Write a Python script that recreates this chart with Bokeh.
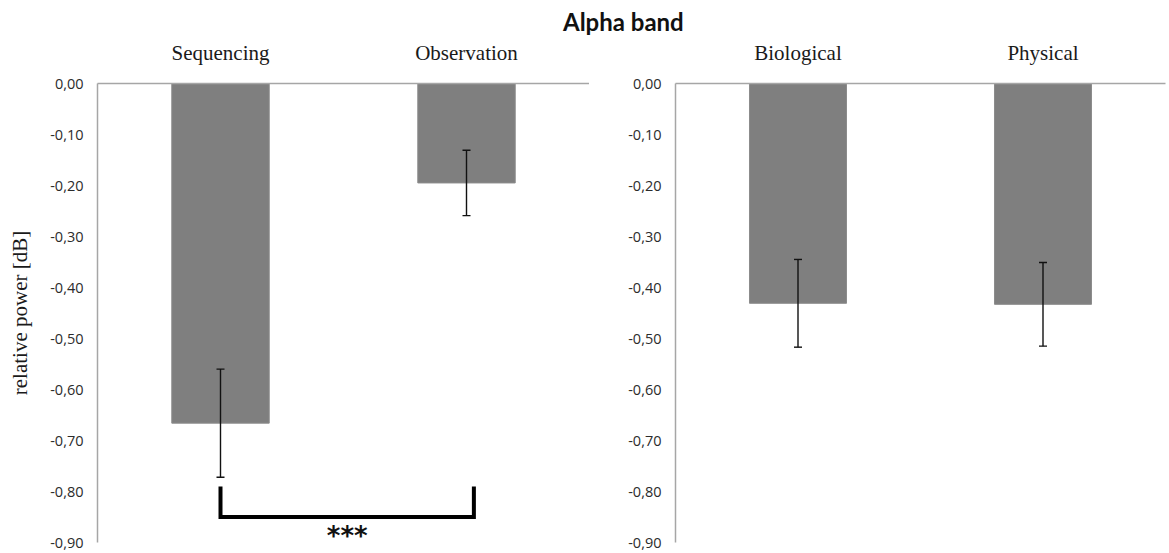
from bokeh.plotting import figure
from bokeh.models import (ColumnDataSource, Range1d, FixedTicker, Whisker, TeeHead, Div, Label)
from bokeh.layouts import column, row
from bokeh.embed import file_html
from bokeh.resources import INLINE

# ---------------- data ----------------
title_text = "Alpha band"
y_label = "relative power [dB]"

left_categories = ["Sequencing", "Observation"]
left_values = [-0.666, -0.195]
left_errors = [0.106, 0.064]

right_categories = ["Biological", "Physical"]
right_values = [-0.431, -0.433]
right_errors = [0.086, 0.082]

y_ticks = [0.0, -0.1, -0.2, -0.3, -0.4, -0.5, -0.6, -0.7, -0.8, -0.9]
y_tick_labels = ["0,00", "-0,10", "-0,20", "-0,30", "-0,40", "-0,50",
                 "-0,60", "-0,70", "-0,80", "-0,90"]

significance = "***"

# ---------------- styling ----------------
BAR_COLOR = "#7f7f7f"
AXIS_COLOR = "#a6a6a6"
SERIF = "Liberation Serif"
SANS = "Open Sans"
FRAME_H = 459


def make_panel(categories, values, errors, frame_width, border_left, border_right, with_label):
    xs = [i + 0.5 for i in range(len(categories))]
    src = ColumnDataSource(dict(
        x=xs,
        top=[0.0] * len(values),
        bottom=values,
        upper=[v + e for v, e in zip(values, errors)],
        lower=[v - e for v, e in zip(values, errors)],
    ))
    p = figure(frame_width=frame_width, frame_height=FRAME_H,
               x_range=Range1d(0, len(categories)),
               y_range=Range1d(-0.9, 0.0),
               x_axis_location="above",
               output_backend="svg", toolbar_location=None,
               min_border_left=border_left, min_border_right=border_right,
               min_border_top=47, min_border_bottom=10)
    p.outline_line_color = None
    p.grid.visible = False
    p.background_fill_color = "white"

    p.vbar(x="x", top="top", bottom="bottom", width=0.396, source=src,
           fill_color=BAR_COLOR, line_color="#8c8c8c", line_width=1)

    w = Whisker(source=src, base="x", upper="upper", lower="lower",
                line_color="#111111", line_width=1.4, level="annotation",
                upper_head=TeeHead(size=8, line_color="#111111", line_width=1.4),
                lower_head=TeeHead(size=8, line_color="#111111", line_width=1.4))
    p.add_layout(w)

    # x axis (top, categories)
    xa = p.xaxis[0]
    xa.ticker = FixedTicker(ticks=xs)
    xa.major_label_overrides = {x: c for x, c in zip(xs, categories)}
    xa.axis_line_color = AXIS_COLOR
    xa.axis_line_width = 1.5
    xa.major_tick_line_color = None
    xa.minor_tick_line_color = None
    xa.major_tick_out = 0
    xa.major_tick_in = 0
    xa.major_label_text_font = SERIF
    xa.major_label_text_font_size = "21px"
    xa.major_label_text_color = "#1a1a1a"
    xa.major_label_standoff = 19

    # y axis
    ya = p.yaxis[0]
    ya.ticker = FixedTicker(ticks=y_ticks)
    ya.major_label_overrides = {t: l for t, l in zip(y_ticks, y_tick_labels)}
    ya.axis_line_color = AXIS_COLOR
    ya.axis_line_width = 1.5
    ya.major_tick_line_color = None
    ya.minor_tick_line_color = None
    ya.major_tick_out = 0
    ya.major_tick_in = 0
    ya.major_label_text_font = SANS
    ya.major_label_text_font_size = "14.5px"
    ya.major_label_text_color = "#2b2b2b"
    ya.major_label_standoff = 14
    if with_label:
        ya.axis_label = y_label
        ya.axis_label_text_font = SERIF
        ya.axis_label_text_font_size = "21px"
        ya.axis_label_text_font_style = "normal"
        ya.axis_label_text_color = "#1a1a1a"
        ya.axis_label_standoff = 15
    return p, xs


p1, xs1 = make_panel(left_categories, left_values, left_errors, 492, 97, 0, True)
p2, xs2 = make_panel(right_categories, right_values, right_errors, 490, 86, 4, False)

# significance bracket between the two left bars
bx0, bx1 = xs1[0], xs1[1] + 0.03
by_top, by_bot = -0.79, -0.85
p1.line([bx0, bx0, bx1, bx1], [by_top, by_bot, by_bot, by_top],
        line_color="black", line_width=4, line_join="miter")
stars = Label(x=(bx0 + bx1) / 2, y=-0.887, text=significance,
              text_font="DejaVu Sans", text_font_size="26px",
              text_font_style="bold", text_align="center", text_baseline="middle",
              text_color="#111111")
p1.add_layout(stars)

title = Div(text='<div style="font-family: Lato, sans-serif; font-weight: bold; '
                 'font-size: 24px; line-height: 28px; color: #111; white-space: nowrap;">'
                 + title_text + '</div>',
            width=200, height=28, margin=(8, 0, 0, 563))

layout = column(title, row(p1, p2))

open("out.html", "w").write(file_html(layout, INLINE))
